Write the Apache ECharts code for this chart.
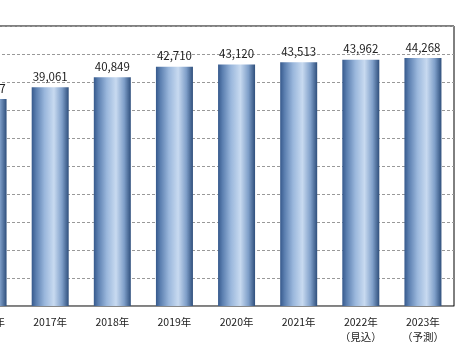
<!DOCTYPE html>
<html><head><meta charset="utf-8">
<script src="https://cdn.jsdelivr.net/npm/echarts@6/dist/echarts.min.js"></script>
<style>html,body{margin:0;padding:0;background:#fff;overflow:hidden;width:473px;height:355px;position:relative}#c{position:absolute;left:-43px;top:0;width:516px;height:355px}</style>
</head><body><div id="c"></div>
<script>
const categories = ['2016年', '2017年', '2018年', '2019年', '2020年', '2021年', '2022年\n（見込）', '2023年\n（予測）'];
const values = [36967, 39061, 40849, 42710, 43120, 43513, 43962, 44268];
const yMin = 0, yMax = 50000, yStep = 5000;

const chart = echarts.init(document.getElementById('c'));
chart.setOption({
  animation: false,
  grid: { left: 0, right: 19, top: 26, bottom: 49, show: true, borderColor: '#000', borderWidth: 1, backgroundColor: 'transparent' },
  xAxis: {
    type: 'category', data: categories,
    axisTick: { show: false },
    axisLine: { lineStyle: { color: '#888', width: 1 } },
    axisLabel: { color: '#222', fontSize: 10.5, fontFamily: 'Noto Sans CJK JP', margin: 9, lineHeight: 15 }
  },
  yAxis: {
    type: 'value', min: yMin, max: yMax, interval: yStep,
    axisLabel: { show: false }, axisLine: { show: false }, axisTick: { show: false },
    splitLine: { lineStyle: { color: '#999', type: [3, 2], width: 1 } }
  },
  series: [{
    type: 'bar', data: values, barWidth: 37,
    itemStyle: {
      color: { type: 'linear', x: 0, y: 0, x2: 1, y2: 0, colorStops: [
        { offset: 0, color: '#36598c' },
        { offset: 0.12, color: '#5b7fb0' },
        { offset: 0.35, color: '#9ab7dc' },
        { offset: 0.6, color: '#c8daf0' },
        { offset: 0.82, color: '#7f9fc9' },
        { offset: 1, color: '#2f4f7c' }
      ] }
    },
    label: {
      show: true, position: 'top', distance: 5, color: '#222', fontSize: 11.5, fontFamily: 'Noto Sans CJK JP',
      formatter: p => p.value.toLocaleString('en-US')
    }
  }]
});
</script></body></html>
